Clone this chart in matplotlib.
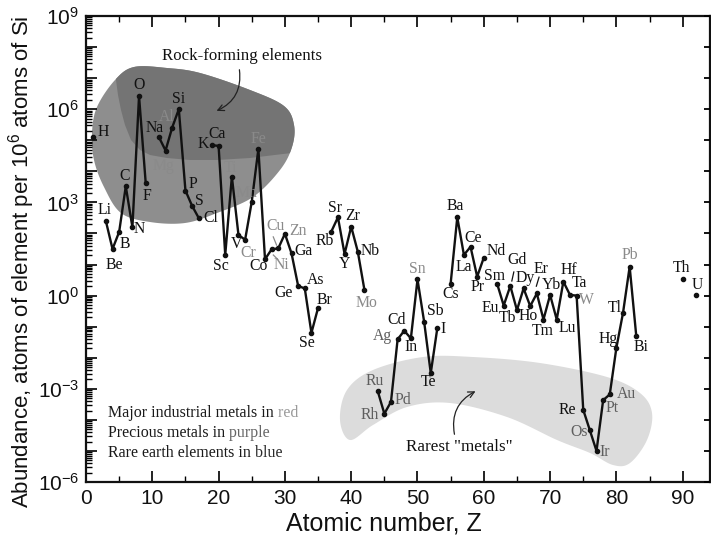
import numpy as np
import matplotlib
matplotlib.use('Agg')
import matplotlib.pyplot as plt
from matplotlib.ticker import FixedLocator, FuncFormatter, NullFormatter
from matplotlib.patches import Polygon, FancyArrowPatch
import matplotlib.transforms as mtransforms

plt.rcParams['font.family'] = ['Liberation Sans', 'DejaVu Sans']
plt.rcParams['axes.unicode_minus'] = False

# ---------------- data ----------------
symbols = ['H', 'Li', 'Be', 'B', 'C', 'N', 'O', 'F',
           'Na', 'Mg', 'Al', 'Si', 'P', 'S', 'Cl',
           'K', 'Ca', 'Sc', 'Ti', 'V', 'Cr', 'Mn', 'Fe', 'Co', 'Ni', 'Cu', 'Zn', 'Ga', 'Ge', 'As', 'Se', 'Br',
           'Rb', 'Sr', 'Y', 'Zr', 'Nb', 'Mo',
           'Ru', 'Rh', 'Pd', 'Ag', 'Cd', 'In', 'Sn', 'Sb', 'Te', 'I',
           'Cs', 'Ba', 'La', 'Ce', 'Pr', 'Nd',
           'Sm', 'Eu', 'Gd', 'Tb', 'Dy', 'Ho', 'Er', 'Tm', 'Yb', 'Lu', 'Hf', 'Ta', 'W',
           'Re', 'Os', 'Ir', 'Pt', 'Au', 'Hg', 'Tl', 'Pb', 'Bi',
           'Th', 'U']
atomic_number = [1, 3, 4, 5, 6, 7, 8, 9,
                 11, 12, 13, 14, 15, 16, 17,
                 19, 20, 21, 22, 23, 24, 25, 26, 27, 28, 29, 30, 31, 32, 33, 34, 35,
                 37, 38, 39, 40, 41, 42,
                 44, 45, 46, 47, 48, 49, 50, 51, 52, 53,
                 55, 56, 57, 58, 59, 60,
                 62, 63, 64, 65, 66, 67, 68, 69, 70, 71, 72, 73, 74,
                 75, 76, 77, 78, 79, 80, 81, 82, 83,
                 90, 92]
abundance = [1.26e5, 2.5e2, 31.6, 112, 3.3e3, 158, 2.63e6, 4.37e3,
             1.26e5, 4.68e4, 2.57e5, 1.0e6, 2.4e3, 776, 316,
             6.92e4, 6.61e4, 20.4, 6.76e3, 89, 63, 1.05e3, 5.25e4, 14.8, 30.9, 33.1, 97.7, 22.9, 2.04, 1.7, 0.063, 0.4,
             115, 331, 21.9, 166, 25.7, 1.51,
             8.5e-4, 1.58e-4, 3.8e-4, 0.039, 0.074, 0.042, 3.31, 0.145, 3.2e-3, 0.093,
             2.45, 331, 20.4, 37.2, 4.07, 16.6,
             2.45, 0.48, 2.04, 0.34, 1.7, 0.46, 1.17, 0.17, 1.05, 0.17, 2.82, 1.05, 1.0,
             2.1e-4, 4.6e-5, 1.0e-5, 4.3e-4, 6.6e-4, 0.021, 0.28, 8.5, 0.049,
             3.55, 1.05]

industrial_metals = ['Al', 'Mg', 'Ti', 'Cr', 'Mn', 'Fe', 'Ni', 'Cu', 'Zn', 'Mo', 'Sn', 'W', 'Pb']
precious_metals = ['Ru', 'Rh', 'Pd', 'Ag', 'Os', 'Ir', 'Pt', 'Au']

x_ticks = [0, 10, 20, 30, 40, 50, 60, 70, 80, 90]
y_label_exponents = [-6, -3, 0, 3, 6, 9]

# ---------------- layout (pixel offsets of labels, y down) ----------------
label_off = {
    'H': (11, -5), 'Li': (-1, -11), 'Be': (2, 16), 'B': (6, 12), 'C': (-1, -10), 'N': (7, 2),
    'O': (0, -11), 'F': (1, 13),
    'Na': (-4, -9), 'Mg': (-2, 15), 'Al': (-6, -11), 'Si': (0, -10), 'P': (8, -7), 'S': (7, -5),
    'Cl': (12, 0),
    'K': (-9, -1), 'Ca': (-2, -12), 'Sc': (-4, 11), 'Ti': (-1, -9), 'V': (-2, 9), 'Cr': (3, 13),
    'Mn': (-5, -9), 'Fe': (0, -10), 'Co': (-6, 7), 'Ni': (10, 16), 'Cu': (-3, -22), 'Zn': (13, -3),
    'Ga': (12, -2), 'Ge': (-15, 7), 'As': (11, -8), 'Se': (-5, 10), 'Br': (6, -8),
    'Rb': (-7, 9), 'Sr': (-3, -9), 'Y': (0, 10), 'Zr': (1, -11), 'Nb': (12, -1), 'Mo': (2, 13),
    'Ru': (-3, -10), 'Rh': (-15, 1), 'Pd': (12, -2), 'Ag': (-15, -3), 'Cd': (-8, -11), 'In': (0, 9),
    'Sn': (0, -10), 'Sb': (11, -11), 'Te': (-2, 9), 'I': (6, 1),
    'Cs': (0, 10), 'Ba': (-2, -11), 'La': (0, 12), 'Ce': (3, -9), 'Pr': (0, 10), 'Nd': (12, -7),
    'Sm': (-3, -8), 'Eu': (-13, 2), 'Gd': (7, -26), 'Tb': (-9, 8), 'Dy': (2, -10), 'Ho': (-2, 10),
    'Er': (4, -24), 'Tm': (-1, 11), 'Yb': (1, -10), 'Lu': (11, 8), 'Hf': (6, -12), 'Ta': (9, -12),
    'W': (10, 4),
    'Re': (-16, 0), 'Os': (-11, 2), 'Ir': (8, 1), 'Pt': (9, 8), 'Au': (17, 0), 'Hg': (-8, -9),
    'Tl': (-8, -5), 'Pb': (0, -12), 'Bi': (5, 11),
    'Th': (-1, -11), 'U': (1, -10),
}
connectors = {'Cu': ((-5, -11.5), (-1.7, -3.3)), 'Ni': ((1.7, 5.7), (6, 10)),
              'Gd': ((3.5, -14), (1.5, -5)), 'Er': ((2.2, -16.3), (-0.5, -7.3))}

W, H = 711, 549
AX_L, AX_R, AX_T, AX_B = 86, 710, 16, 482

fig = plt.figure(figsize=(W / 100, H / 100), dpi=100)
ax = fig.add_axes([AX_L / W, (H - AX_B) / H, (AX_R - AX_L) / W, (AX_B - AX_T) / H])
ax.set_yscale('log')
ax.set_xlim(0, (AX_R - AX_L) / 6.63)
ax.set_ylim(1e-6, 1e9)


def px(x, y):
    return ((x - AX_L) / (AX_R - AX_L), (AX_B - y) / (AX_B - AX_T))


def smooth_closed(pts, n=24):
    P = np.asarray(pts, float)
    m = len(P)
    out = []
    for i in range(m):
        p0, p1, p2, p3 = P[(i - 1) % m], P[i], P[(i + 1) % m], P[(i + 2) % m]
        for t in np.linspace(0, 1, n, endpoint=False):
            out.append(0.5 * ((2 * p1) + (-p0 + p2) * t + (2 * p0 - 5 * p1 + 4 * p2 - p3) * t * t
                              + (-p0 + 3 * p1 - 3 * p2 + p3) * t ** 3))
    return np.array(out)


# ---------------- blobs ----------------
outer_px = [(134, 67), (167, 68), (200, 73), (250, 90), (284, 106), (294, 125), (292, 147), (280, 170),
            (253, 197), (217, 213), (185, 223), (150, 222), (121, 213), (104, 187), (94, 160), (92, 133),
            (97, 107), (115, 80)]
outer = smooth_closed(outer_px)
outer_patch = Polygon([px(*p) for p in outer], closed=True, transform=ax.transAxes,
                      facecolor='#8e8e8e', edgecolor='none', zorder=1)
ax.add_patch(outer_patch)
inner_px = [(320, 40), (320, 150), (300, 152), (283, 154), (250, 158), (217, 160), (190, 160), (167, 158),
            (150, 155), (140, 150), (131, 140), (125, 125), (121, 110), (118, 95), (116, 80), (113, 60),
            (113, 40)]
inner_patch = Polygon([px(*p) for p in inner_px], closed=True, transform=ax.transAxes,
                      facecolor='#747474', edgecolor='none', zorder=1.1)
ax.add_patch(inner_patch)
inner_patch.set_clip_path(outer_patch)

rare_px = [(340, 420), (347, 390), (373, 370), (423, 357), (473, 357), (540, 363), (607, 377), (640, 393),
           (652, 413), (647, 440), (630, 463), (613, 465), (590, 453), (557, 440), (507, 417), (450, 403),
           (407, 407), (373, 425), (350, 440)]
rare = smooth_closed(rare_px)
ax.add_patch(Polygon([px(*p) for p in rare], closed=True, transform=ax.transAxes,
                     facecolor='#dcdcdc', edgecolor='none', zorder=1))

# ---------------- data line ----------------
zs = np.array(atomic_number)
vals = np.array(abundance)
breaks = np.where(np.diff(zs) > 1)[0] + 1
for seg_z, seg_v in zip(np.split(zs, breaks), np.split(vals, breaks)):
    ax.plot(seg_z, seg_v, '-', color='#111111', lw=1.7, marker='o', ms=3, zorder=3)

inv = fig.transFigure.inverted()
for s, z, v in zip(symbols, atomic_number, abundance):
    dx, dy = label_off[s]
    if s in industrial_metals:
        c = '#8a8a8a'
    elif s in precious_metals:
        c = '#5e5e5e'
    else:
        c = '#111111'
    ax.annotate(s, xy=(z, v), xytext=(dx * 0.72, -dy * 0.72), textcoords='offset points',
                ha='center', va='center', fontsize=11.3, family='Liberation Serif', color=c, zorder=4)
    if s in connectors:
        (a0, b0), (a1, b1) = connectors[s]
        t0 = ax.transData + mtransforms.ScaledTranslation(a0 / 100, -b0 / 100, fig.dpi_scale_trans)
        t1 = ax.transData + mtransforms.ScaledTranslation(a1 / 100, -b1 / 100, fig.dpi_scale_trans)
        q0 = inv.transform(t0.transform((z, v)))
        q1 = inv.transform(t1.transform((z, v)))
        fig.add_artist(plt.Line2D([q0[0], q1[0]], [q0[1], q1[1]], color=c, lw=0.9,
                                  transform=fig.transFigure, zorder=4))

# ---------------- annotations ----------------
ax.text(*px(242, 56), 'Rock-forming elements', transform=ax.transAxes, ha='center', va='center',
        fontsize=12.2, family='Liberation Serif', color='#111111')
ax.add_patch(FancyArrowPatch(px(239, 67), px(214, 112), transform=ax.transAxes,
                             connectionstyle='arc3,rad=-0.4', arrowstyle='->', mutation_scale=11,
                             lw=0.9, color='#222222', zorder=4))
ax.text(*px(459, 447), 'Rarest "metals"', transform=ax.transAxes, ha='center', va='center',
        fontsize=12.3, family='Liberation Serif', color='#111111', zorder=4)
ax.add_patch(FancyArrowPatch(px(455, 437), px(478, 390), transform=ax.transAxes,
                             connectionstyle='arc3,rad=-0.4', arrowstyle='->', mutation_scale=11,
                             lw=0.9, color='#222222', zorder=4))

legend_lines = [('Major industrial metals in', ' red', '#9a9a9a', 413),
                ('Precious metals in', ' purple', '#666666', 433),
                ('Rare earth elements in', ' blue', '#2a2a2a', 453)]
for base, word, col, yy in legend_lines:
    t = ax.text(*px(108, yy), base, transform=ax.transAxes, ha='left', va='center',
                fontsize=11.5, family='Liberation Serif', color='#1a1a1a', zorder=4)
    ax.annotate(word, xy=(1, 0), xycoords=t, ha='left', va='bottom',
                fontsize=11.5, family='Liberation Serif', color=col, zorder=4)

# ---------------- axes styling ----------------
ax.xaxis.set_major_locator(FixedLocator(x_ticks))
ax.xaxis.set_minor_locator(FixedLocator([v + 5 for v in x_ticks]))
dec = [10.0 ** k for k in range(-6, 10)]
ax.yaxis.set_major_locator(FixedLocator(dec))
ax.yaxis.set_minor_locator(FixedLocator([m * 10.0 ** k for k in range(-6, 9) for m in range(2, 10)]))
ax.yaxis.set_major_formatter(FuncFormatter(
    lambda v, p: (r'$\mathregular{10^{%d}}$' % round(np.log10(v))) if round(np.log10(v)) in y_label_exponents else ''))
ax.yaxis.set_minor_formatter(NullFormatter())
ax.tick_params(which='major', direction='in', length=8, width=1.3, top=True, right=False,
               labelsize=15, pad=5, colors='#111111')
ax.tick_params(which='minor', direction='in', length=4.5, width=1.0, top=True, right=False)
for sp in ax.spines.values():
    sp.set_linewidth(1.6)
    sp.set_color('#111111')

ax2 = ax.twinx()
ax2.set_yscale('log')
ax2.set_ylim(1e-6, 1e9)
ax2.yaxis.set_major_locator(FixedLocator(dec))
ax2.yaxis.set_minor_locator(FixedLocator([]))
ax2.tick_params(which='major', direction='in', length=4.5, width=1.3, labelright=False)
for sp in ax2.spines.values():
    sp.set_visible(False)

ax.set_xlabel('Atomic number, Z', fontsize=18, color='#111111')
ax.xaxis.set_label_coords(0.478, -0.064)
ax.set_ylabel(r'Abundance, atoms of element per $\mathregular{10^{6}}$ atoms of Si', fontsize=16,
              color='#111111')
ax.yaxis.set_label_coords(-0.079, 0.472)

fig.savefig('out.png', dpi=100)
